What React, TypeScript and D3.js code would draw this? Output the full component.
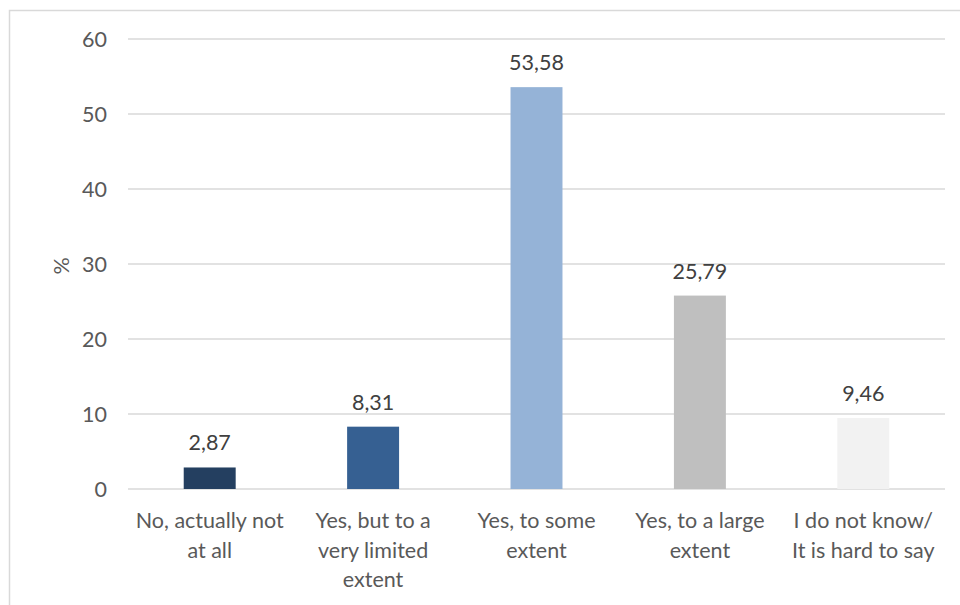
import React from "react";
import * as d3 from "d3";

const categories: string[] = [
  "No, actually not|at all",
  "Yes, but to a|very limited|extent",
  "Yes, to some|extent",
  "Yes, to a large|extent",
  "I do not know/|It is hard to say",
];
const values: number[] = [2.87, 8.31, 53.58, 25.79, 9.46];
const valueLabels: string[] = ["2,87", "8,31", "53,58", "25,79", "9,46"];
const barColors: string[] = ["#243F60", "#366092", "#95B3D7", "#BFBFBF", "#F2F2F2"];
const yTicks: number[] = [0, 10, 20, 30, 40, 50, 60];

const W = 960;
const H = 605;
const left = 128;
const right = 945;
const top = 39;
const bottom = 489;
const FONT = "Lato, 'Open Sans', sans-serif";
const TEXT = "#595959";
const FS = 21.5;

export default function App() {
  const x = d3
    .scaleBand<string>()
    .domain(categories)
    .range([left, right])
    .paddingInner(0.682)
    .paddingOuter(0.341);
  const y = d3.scaleLinear().domain([0, 60]).range([bottom, top]);

  return (
    <svg
      width={W}
      height={H}
      style={{ position: "fixed", left: 0, top: 0, background: "#fff" }}
      fontFamily={FONT}
    >
      <rect x={9.5} y={10.5} width={W + 20} height={H + 20} fill="#fff" stroke="#D9D9D9" strokeWidth={1.5} />
      {yTicks.map((t) => (
        <g key={t}>
          <line x1={left} x2={right} y1={y(t)} y2={y(t)} stroke="#D9D9D9" strokeWidth={1.5} />
          <text x={107} y={y(t)} dy="0.36em" textAnchor="end" fontSize={FS} fill={TEXT}>
            {t}
          </text>
        </g>
      ))}
      <text
        transform={`translate(61,${(top + bottom) / 2 + 2}) rotate(-90)`}
        textAnchor="middle"
        dy="0.36em"
        fontSize={FS}
        fill={TEXT}
      >
        %
      </text>
      {categories.map((c, i) => {
        const bx = x(c)!;
        const bw = x.bandwidth();
        const cx = bx + bw / 2;
        return (
          <g key={c}>
            <rect x={bx} y={y(values[i])} width={bw} height={y(0) - y(values[i])} fill={barColors[i]} />
            <text x={cx} y={y(values[i]) - 17} textAnchor="middle" fontSize={FS} fill="#404040">
              {valueLabels[i]}
            </text>
            {c.split("|").map((line, j) => (
              <text key={j} x={cx} y={528 + j * 29.5} textAnchor="middle" fontSize={FS} fill={TEXT}>
                {line}
              </text>
            ))}
          </g>
        );
      })}
    </svg>
  );
}
